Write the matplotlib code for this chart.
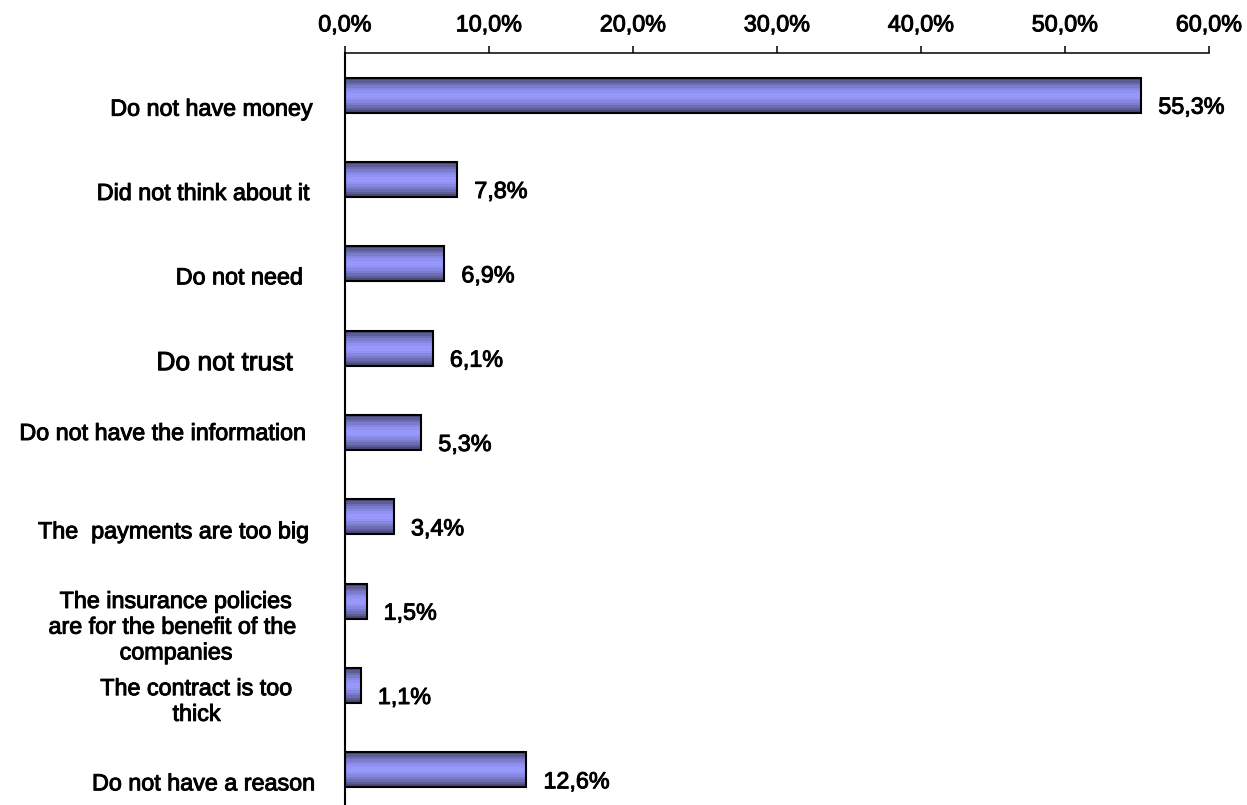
import numpy as np
import matplotlib
matplotlib.use("Agg")
from matplotlib import pyplot as plt
from matplotlib import patheffects
from matplotlib.colors import LinearSegmentedColormap
from matplotlib.ticker import FuncFormatter, MultipleLocator

# reasons for not having insurance, share of answers in %
reasons = [
    "Do not have money",
    "Did not think about it",
    "Do not need",
    "Do not trust",
    "Do not have the information",
    "The  payments are too big",
    "The insurance policies\nare for the benefit of the \ncompanies",
    "The contract is too\nthick",
    "Do not have a reason",
]
shares = [55.3, 7.8, 6.9, 6.1, 5.3, 3.4, 1.5, 1.1, 12.6]

plt.rcParams['font.family'] = ['Liberation Sans', 'DejaVu Sans']

DPI = 100
W, H = 1247, 805
PX = 72.0 / DPI          # points per pixel
FS = 16.8
# thicken the glyphs a little
heavy = [patheffects.withStroke(linewidth=0.7, foreground='black')]

fig = plt.figure(figsize=(W / DPI, H / DPI), dpi=DPI)
# axes box in pixels: left 345, right 1209, top 53, bottom a bit below the figure
left, right, top, bottom = 345, 1209, 53, 812
ax = fig.add_axes([left / W, (H - bottom) / H, (right - left) / W, (bottom - top) / H])

bar_h = 0.415
ypos = np.arange(len(shares))

# banded gradient inside the bars: dark at the edges, light in the middle
cmap = LinearSegmentedColormap.from_list("bar", ["#4a4a78", "#9999ff"])
rows = np.linspace(-1, 1, 14)
grad = (1 - np.abs(rows) ** 1.6).reshape(-1, 1)
for y, v in zip(ypos, shares):
    ax.imshow(grad, extent=(0, v, y + bar_h / 2, y - bar_h / 2), aspect='auto',
              cmap=cmap, vmin=0, vmax=1, interpolation='nearest', zorder=2)
ax.barh(ypos, shares, height=bar_h, facecolor='none', edgecolor='black',
        linewidth=1.5, zorder=3)

ax.set_xlim(0, 60)
ax.set_ylim(len(shares) - 0.5, -0.5)
ax.set_aspect('auto')

# value labels right of each bar, a little below the bar centre
for y, v in zip(ypos, shares):
    ax.annotate(f"{v:.1f}%".replace('.', ','), xy=(v, y),
                xytext=(17 * PX, -12 * PX), textcoords='offset points',
                ha='left', va='center', fontsize=FS, path_effects=heavy)

# category labels left of the axis (gap and drop in pixels)
gap = [32, 35, 42, 52, 38, 35, 41, 52, 29]
drop = [14, 14, 14, 15, 1, 15, 26, 16, 14]
for y, name, dx, dy in zip(ypos, reasons, gap, drop):
    size = 19 if name == "Do not trust" else FS
    ax.annotate(name, xy=(0, y), xycoords=('axes fraction', 'data'),
                xytext=(-dx * PX, -dy * PX), textcoords='offset points',
                ha='right', va='center', multialignment='center',
                fontsize=size, linespacing=1.15, path_effects=heavy)

ax.xaxis.tick_top()
ax.xaxis.set_major_locator(MultipleLocator(10))
ax.xaxis.set_major_formatter(FuncFormatter(lambda x, p: f"{x:.1f}%".replace('.', ',')))
ax.tick_params(axis='x', direction='out', length=5, width=1.1, pad=7, labelsize=FS)
for lab in ax.get_xticklabels():
    lab.set_path_effects(heavy)
ax.set_yticks([])

for side in ('right', 'bottom'):
    ax.spines[side].set_visible(False)
ax.spines['top'].set_linewidth(1.1)
ax.spines['left'].set_linewidth(1.5)

fig.savefig("out.png", dpi=DPI)
